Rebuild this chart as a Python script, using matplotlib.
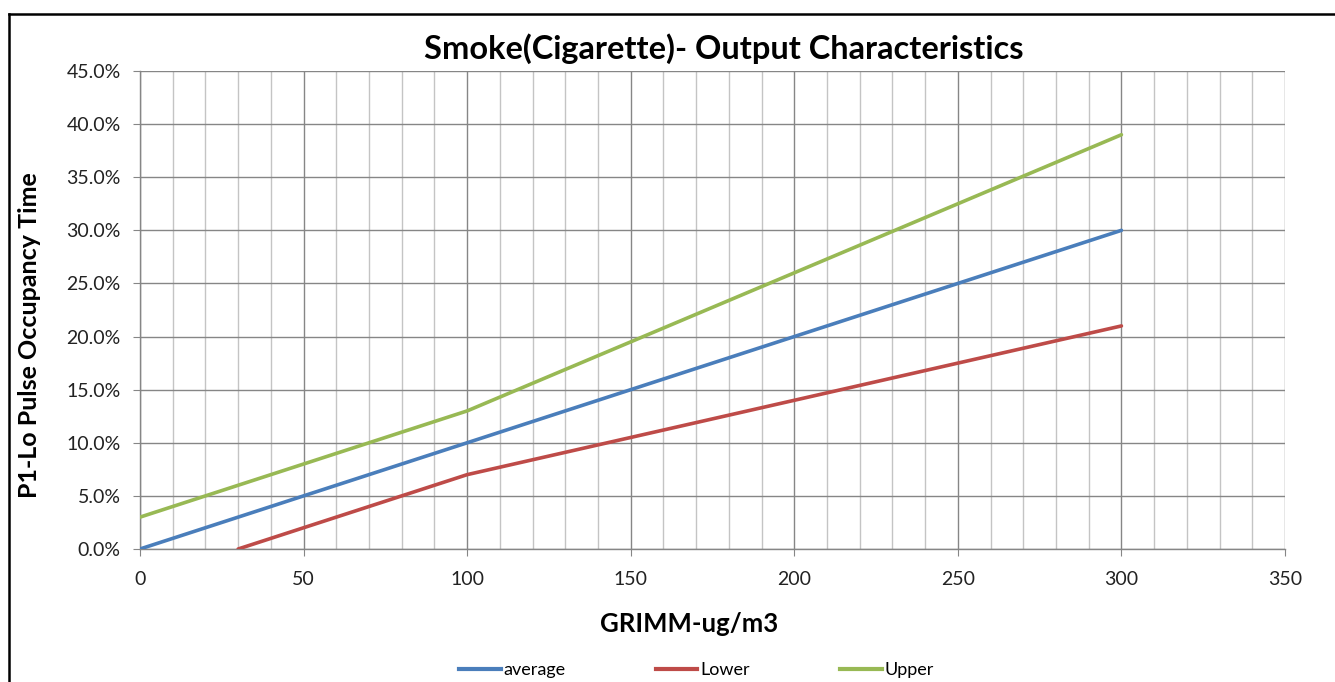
import matplotlib
matplotlib.use("Agg")
import matplotlib.pyplot as plt
from matplotlib.ticker import MultipleLocator, FuncFormatter
from matplotlib.lines import Line2D

# Data
avg_x = [0, 100, 200, 300]
avg_y = [0.00, 0.10, 0.20, 0.30]
low_x = [30, 100, 200, 300]
low_y = [0.00, 0.07, 0.14, 0.21]
up_x = [0, 100, 200, 300]
up_y = [0.03, 0.13, 0.26, 0.39]
series_names = ["average", "Lower", "Upper"]

plt.rcParams['font.family'] = ['Lato', 'DejaVu Sans']

fig = plt.figure(figsize=(13.35, 6.82), dpi=100)
ax = fig.add_axes([140/1335, 1-549/682, (1285-140)/1335, (549-71)/682])

c_avg, c_low, c_up = "#4A7EBB", "#BE4B48", "#98B954"
ax.plot(avg_x, avg_y, color=c_avg, lw=2.6, solid_capstyle='round', zorder=3)
ax.plot(low_x, low_y, color=c_low, lw=2.6, solid_capstyle='round', zorder=3)
ax.plot(up_x, up_y, color=c_up, lw=2.6, solid_capstyle='round', zorder=3)

ax.set_xlim(0, 350)
ax.set_ylim(0, 0.45)
ax.xaxis.set_major_locator(MultipleLocator(50))
ax.xaxis.set_minor_locator(MultipleLocator(10))
ax.yaxis.set_major_locator(MultipleLocator(0.05))
ax.yaxis.set_major_formatter(FuncFormatter(lambda v, p: f"{v*100:.1f}%"))
ax.grid(which='major', axis='x', color='#868686', lw=1.0)
ax.grid(which='minor', axis='x', color='#c4c4c4', lw=1.0)
ax.grid(which='major', axis='y', color='#868686', lw=1.0)
ax.set_axisbelow(True)
for s in ['top', 'right']:
    ax.spines[s].set_visible(False)
for s in ['left', 'bottom']:
    ax.spines[s].set_color('#868686')
    ax.spines[s].set_linewidth(1.0)
ax.tick_params(axis='x', which='major', direction='out', length=5, color='#868686',
               labelsize=14, pad=11, labelcolor='#222222')
ax.tick_params(axis='x', which='minor', length=0)
ax.tick_params(axis='y', which='major', direction='out', length=5, color='#868686',
               labelsize=14, pad=9, labelcolor='#222222')

ax.set_title("Smoke(Cigarette)- Output Characteristics", fontsize=23.4, fontweight='bold',
             pad=9, x=(723.5-140)/1145)
ax.set_xlabel("GRIMM-ug/m3", fontsize=18.5, fontweight='bold')
ax.xaxis.set_label_coords((689-140)/1145, -(624-549)/478)
ax.xaxis.label.set_va('center')
ax.set_ylabel("P1-Lo Pulse Occupancy Time", fontsize=18, fontweight='bold', va='center')
ax.yaxis.set_label_coords((30-140)/1145, (549-335.5)/478)

handles = [Line2D([], [], color=c, lw=3.0) for c in (c_avg, c_low, c_up)]
fig.legend(handles, series_names, loc='center', bbox_to_anchor=(696.5/1335, 1-670/682),
           ncol=3, frameon=False, fontsize=13, handlelength=2.3, handletextpad=0.15,
           columnspacing=5.0)

# outer frame (top and left edges visible)
fig.add_artist(Line2D([9/1335, 9/1335], [0, 1-14/682], color='black', lw=1.8, transform=fig.transFigure))
fig.add_artist(Line2D([9/1335, 1], [1-14/682, 1-14/682], color='black', lw=1.8, transform=fig.transFigure))

fig.savefig("out.png", dpi=100)
